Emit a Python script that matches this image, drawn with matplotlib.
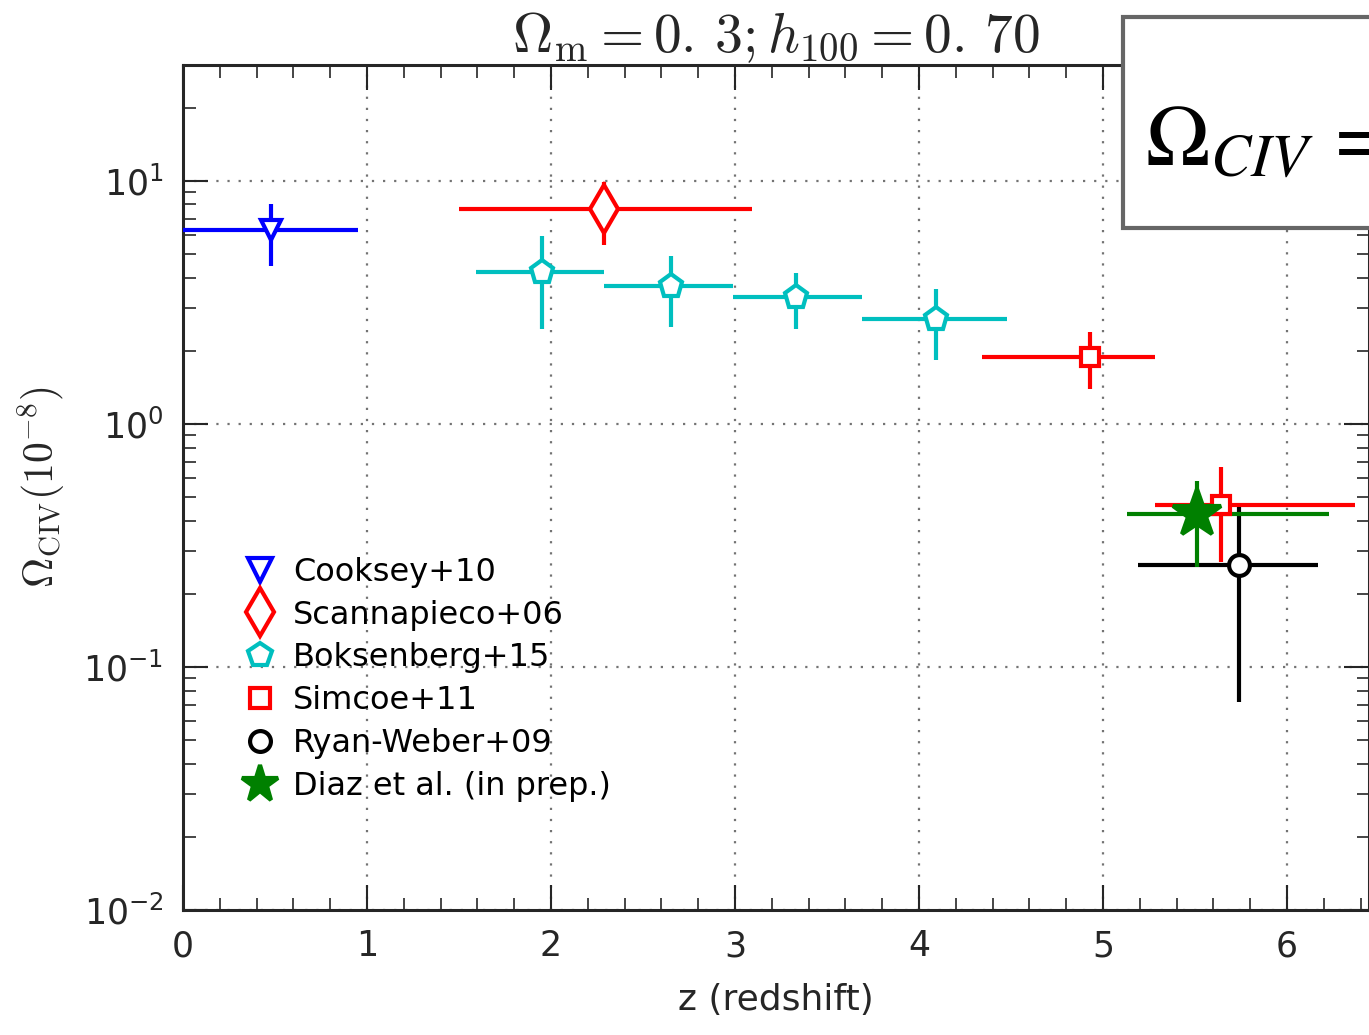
import numpy as np
import matplotlib
matplotlib.use("Agg")
import matplotlib.pyplot as plt
from matplotlib.lines import Line2D
from matplotlib.patches import Rectangle

# --- data (Omega_CIV in units of 1e-8) ---
# z, lower/upper z bin edge, Omega, lower/upper Omega bound
cooksey_z = [0.48]
cooksey_zlo = [0.0]
cooksey_zhi = [0.95]
cooksey_om = [6.3]
cooksey_lo = [4.47]
cooksey_hi = [8.0]

scanna_z = [2.29]
scanna_zlo = [1.50]
scanna_zhi = [3.09]
scanna_om = [7.67]
scanna_lo = [5.45]
scanna_hi = [9.9]

boks_z = [1.95, 2.65, 3.33, 4.09]
boks_zlo = [1.59, 2.29, 2.99, 3.69]
boks_zhi = [2.29, 2.99, 3.69, 4.48]
boks_om = [4.22, 3.70, 3.33, 2.70]
boks_lo = [2.46, 2.51, 2.46, 1.83]
boks_hi = [5.94, 4.91, 4.18, 3.59]

simcoe_z = [4.93, 5.64]
simcoe_zlo = [4.34, 5.28]
simcoe_zhi = [5.28, 6.37]
simcoe_om = [1.89, 0.464]
simcoe_lo = [1.39, 0.270]
simcoe_hi = [2.39, 0.665]

ryan_z = [5.74]
ryan_zlo = [5.19]
ryan_zhi = [6.17]
ryan_om = [0.263]
ryan_lo = [0.0718]
ryan_hi = [0.455]

diaz_z = [5.51]
diaz_zlo = [5.13]
diaz_zhi = [6.23]
diaz_om = [0.426]
diaz_lo = [0.258]
diaz_hi = [0.583]


def errs(z, zlo, zhi, om, lo, hi):
    z = np.array(z); om = np.array(om)
    xe = [z - np.array(zlo), np.array(zhi) - z]
    ye = [om - np.array(lo), np.array(hi) - om]
    return xe, ye


fig = plt.figure(figsize=(13.69, 10.35), dpi=100)
ax = fig.add_axes([183/1369, 1 - 910/1035, 1 - 183/1369, 845/1035])

# color, marker, size in plot, size in legend, face
sets = [
    (cooksey_z, cooksey_zlo, cooksey_zhi, cooksey_om, cooksey_lo, cooksey_hi, 'b', 'v', 15, 17, 'w'),
    (scanna_z, scanna_zlo, scanna_zhi, scanna_om, scanna_lo, scanna_hi, 'r', 'd', 24, 24, 'w'),
    (boks_z, boks_zlo, boks_zhi, boks_om, boks_lo, boks_hi, 'c', 'p', 17, 18, 'w'),
    (simcoe_z, simcoe_zlo, simcoe_zhi, simcoe_om, simcoe_lo, simcoe_hi, 'r', 's', 13, 15, 'w'),
    (ryan_z, ryan_zlo, ryan_zhi, ryan_om, ryan_lo, ryan_hi, 'k', 'o', 15, 15, 'w'),
    (diaz_z, diaz_zlo, diaz_zhi, diaz_om, diaz_lo, diaz_hi, 'g', '*', 36, 28, 'g'),
]
labels = ['Cooksey+10', 'Scannapieco+06', 'Boksenberg+15', 'Simcoe+11',
          'Ryan-Weber+09', 'Diaz et al. (in prep.)']

for z, zlo, zhi, om, lo, hi, c, m, ms, lms, fc in sets:
    xe, ye = errs(z, zlo, zhi, om, lo, hi)
    ax.errorbar(z, om, xerr=xe, yerr=ye, fmt=m, color=c, ecolor=c, elinewidth=3,
                capsize=0, ms=ms, mfc=fc, mec=c, mew=3, zorder=3)

ax.set_yscale('log')
ax.set_xlim(0, (1369 - 183) / 184)
ax.set_ylim(0.01, 30)
ax.grid(True, which='major', linestyle=(0, (1, 4)), color='0.45', linewidth=1.6)
ax.minorticks_on()
ax.xaxis.set_minor_locator(matplotlib.ticker.MultipleLocator(0.2))
ax.tick_params(which='both', direction='in', top=True, right=True, colors='0.15',
               labelsize=25, pad=14)
ax.tick_params(which='major', length=18, width=1.5)
ax.tick_params(which='minor', length=9, width=1.2)
for s in ax.spines.values():
    s.set_linewidth(2.2)
    s.set_color('0.15')

ax.set_xlabel('z (redshift)', fontsize=26, color='0.15', labelpad=14)
ax.set_ylabel(r'$\Omega_{\rm CIV}(10^{-8})$', fontsize=30, color='0.15',
              math_fontfamily='cm', labelpad=12)
ax.set_title(r'$\Omega_{\rm m}=0.\,3;h_{100}=0.\,70$', fontsize=40, color='0.15',
             math_fontfamily='cm', pad=2)

handles = []
for z, zlo, zhi, om, lo, hi, c, m, ms, lms, fc in sets:
    handles.append(Line2D([], [], linestyle='none', marker=m, color=c, mfc=fc,
                          mec=c, mew=3, ms=lms))
ax.legend(handles, labels, loc='upper left', bbox_to_anchor=(0.035, 0.437),
          frameon=False, fontsize=23, handletextpad=0.45, labelspacing=0.37,
          borderpad=0, handlelength=1.2)

fig.patches.append(Rectangle((1123/1369, 1 - 228/1035), 0.5, 211/1035,
                             transform=fig.transFigure, fill=True, facecolor='white',
                             edgecolor='0.4', linewidth=3, zorder=5))
fig.text(1145/1369, 1 - 165/1035, r'$\Omega_{CIV}\,=$', fontsize=62,
         math_fontfamily='stix', color='black', zorder=6)

fig.savefig('out.png', dpi=100)
